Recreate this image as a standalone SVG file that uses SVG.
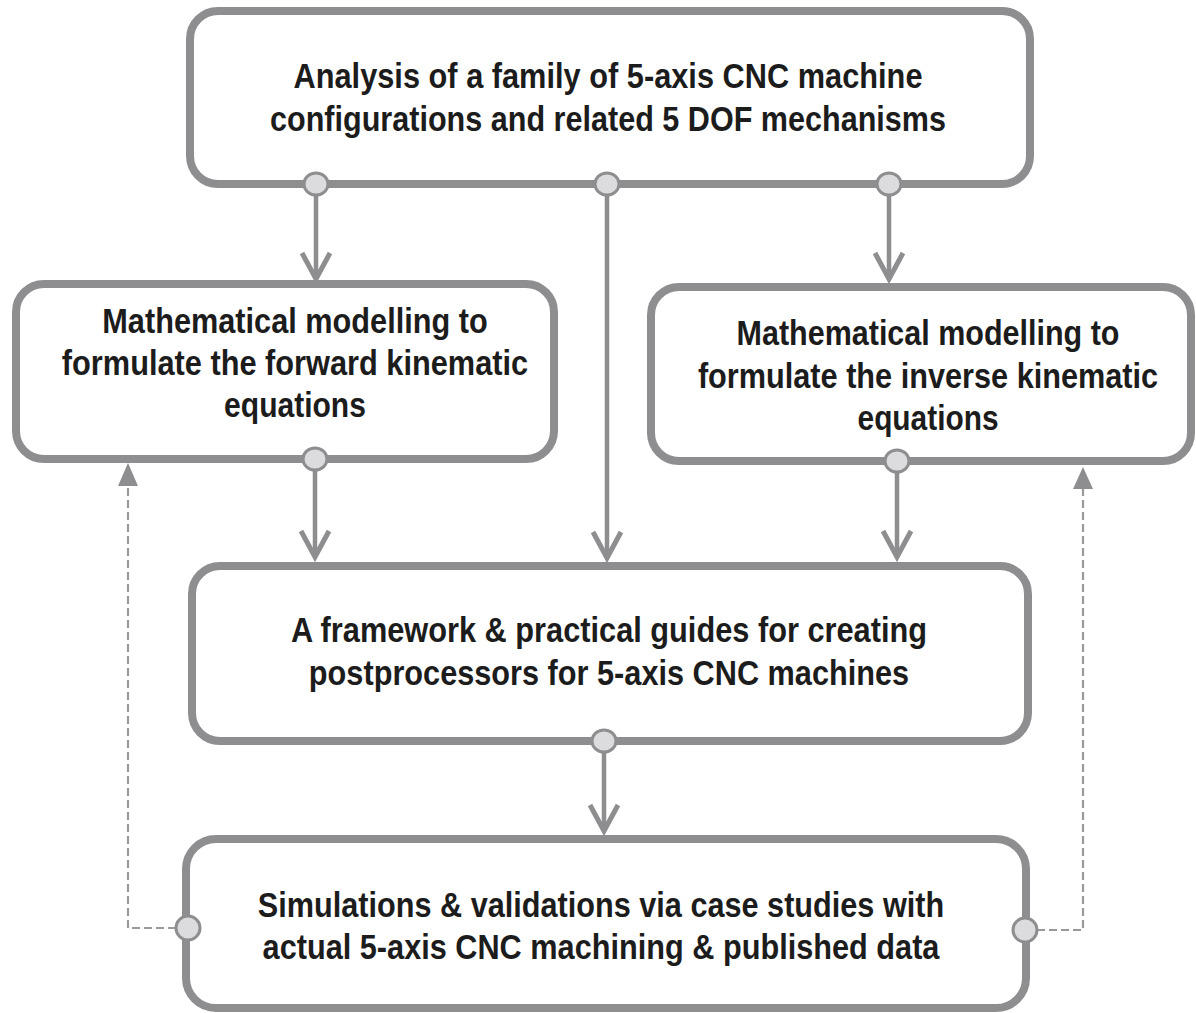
<svg xmlns="http://www.w3.org/2000/svg" width="1196" height="1013" viewBox="0 0 1196 1013">
<defs>
<style>
.box{fill:#ffffff;stroke:#8e8e90;stroke-width:8}
.t{font-family:"Liberation Sans",Arial,sans-serif;font-weight:bold;font-size:35px;fill:#1c1c1c;text-anchor:middle}
.ln{stroke:#8e8e90;stroke-width:4.5;fill:none}
.hd{stroke:#8e8e90;stroke-width:5;fill:none;stroke-linejoin:miter;stroke-linecap:butt}
.dl{stroke:#9a9a9c;stroke-width:2.2;fill:none;stroke-dasharray:8 4}
.dh{fill:#8e8e90}
.pt{fill:#dcdcde;stroke:#8e8e90;stroke-width:3}
</style>
</defs>
<rect width="1196" height="1013" fill="#ffffff"/>
<g id="connectors">
<line class="ln" x1="316" y1="184" x2="316" y2="279"/>
<polyline class="hd" points="302,253 316,279 330,253"/>
<line class="ln" x1="607" y1="184" x2="607" y2="558"/>
<polyline class="hd" points="593,532 607,558 621,532"/>
<line class="ln" x1="889" y1="184" x2="889" y2="279"/>
<polyline class="hd" points="875,253 889,279 903,253"/>
<line class="ln" x1="315" y1="459" x2="315" y2="557"/>
<polyline class="hd" points="301,531 315,557 329,531"/>
<line class="ln" x1="897" y1="461" x2="897" y2="557"/>
<polyline class="hd" points="883,531 897,557 911,531"/>
<line class="ln" x1="604" y1="741" x2="604" y2="831"/>
<polyline class="hd" points="590,805 604,831 618,805"/>
<polyline class="dl" points="188,928 128,928 128,484"/>
<polygon class="dh" points="128,463 118,486 138,486"/>
<polyline class="dl" points="1025,930 1083,930 1083,487"/>
<polygon class="dh" points="1083,467 1073,489 1093,489"/>
</g>
<g id="node-analysis">
<rect class="box" x="190" y="11" width="840" height="173" rx="28"/>
<text class="t" transform="translate(608 88) scale(0.87 1)" x="0" y="0" textLength="723" lengthAdjust="spacingAndGlyphs">Analysis of a family of 5-axis CNC machine</text>
<text class="t" transform="translate(608 131) scale(0.87 1)" x="0" y="0" textLength="777" lengthAdjust="spacingAndGlyphs">configurations and related 5 DOF mechanisms</text>
</g>
<g id="node-forward">
<rect class="box" x="16" y="284" width="538" height="175" rx="28"/>
<text class="t" transform="translate(295 333) scale(0.87 1)" x="0" y="0" textLength="443" lengthAdjust="spacingAndGlyphs">Mathematical modelling to</text>
<text class="t" transform="translate(295 375) scale(0.87 1)" x="0" y="0" textLength="536" lengthAdjust="spacingAndGlyphs">formulate the forward kinematic</text>
<text class="t" transform="translate(295 417) scale(0.87 1)" x="0" y="0" textLength="163" lengthAdjust="spacingAndGlyphs">equations</text>
</g>
<g id="node-inverse">
<rect class="box" x="651" y="287" width="540" height="174" rx="28"/>
<text class="t" transform="translate(928 345) scale(0.87 1)" x="0" y="0" textLength="440" lengthAdjust="spacingAndGlyphs">Mathematical modelling to</text>
<text class="t" transform="translate(928 388) scale(0.87 1)" x="0" y="0" textLength="529" lengthAdjust="spacingAndGlyphs">formulate the inverse kinematic</text>
<text class="t" transform="translate(928 430) scale(0.87 1)" x="0" y="0" textLength="162" lengthAdjust="spacingAndGlyphs">equations</text>
</g>
<g id="node-framework">
<rect class="box" x="192" y="566" width="836" height="175" rx="28"/>
<text class="t" transform="translate(609 642) scale(0.87 1)" x="0" y="0" textLength="731" lengthAdjust="spacingAndGlyphs">A framework &amp; practical guides for creating</text>
<text class="t" transform="translate(609 685) scale(0.87 1)" x="0" y="0" textLength="690" lengthAdjust="spacingAndGlyphs">postprocessors for 5-axis CNC machines</text>
</g>
<g id="node-simulations">
<rect class="box" x="186" y="839" width="840" height="169" rx="30"/>
<text class="t" transform="translate(601 917) scale(0.87 1)" x="0" y="0" textLength="789" lengthAdjust="spacingAndGlyphs">Simulations &amp; validations via case studies with</text>
<text class="t" transform="translate(601 959) scale(0.87 1)" x="0" y="0" textLength="778" lengthAdjust="spacingAndGlyphs">actual 5-axis CNC machining &amp; published data</text>
</g>
<g id="ports">
<ellipse class="pt" cx="316" cy="184" rx="12" ry="11"/>
<ellipse class="pt" cx="607" cy="184" rx="12" ry="11"/>
<ellipse class="pt" cx="889" cy="184" rx="12" ry="11"/>
<ellipse class="pt" cx="315" cy="459" rx="12" ry="11"/>
<ellipse class="pt" cx="897" cy="461" rx="12" ry="11"/>
<ellipse class="pt" cx="604" cy="741" rx="12" ry="11"/>
<ellipse class="pt" cx="188" cy="928" rx="12" ry="12"/>
<ellipse class="pt" cx="1025" cy="930" rx="12" ry="12"/>
</g>
</svg>
